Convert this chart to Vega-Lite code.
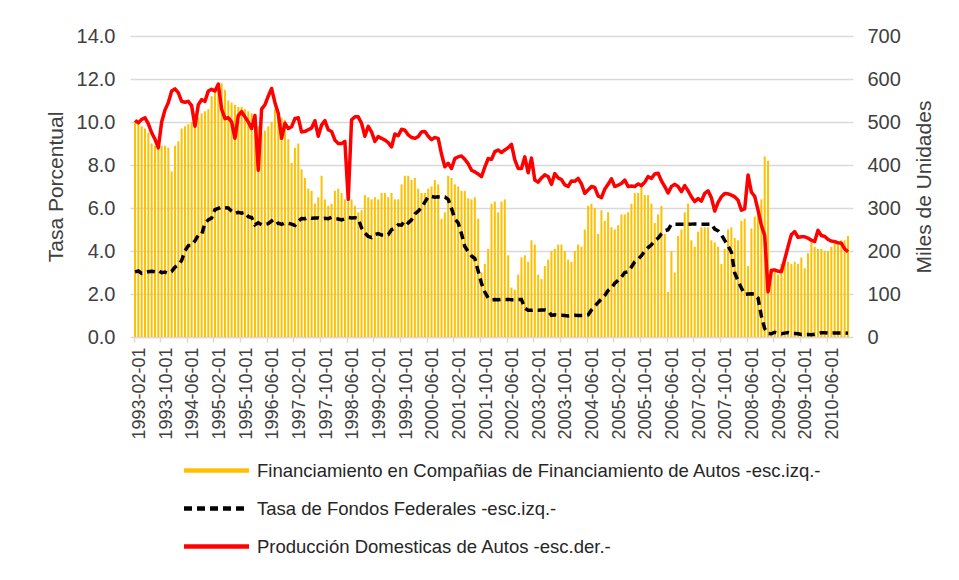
{
  "$schema": "https://vega.github.io/schema/vega-lite/v6.json",
  "width": 715,
  "height": 301,
  "padding": {"left": 45, "top": 26, "right": 20, "bottom": 10},
  "background": "white",
  "config": {
    "font": "Liberation Sans",
    "view": {"stroke": null},
    "axis": {"labelFont": "Liberation Sans", "titleFont": "Liberation Sans", "labelColor": "#404040", "titleColor": "#404040", "titleFontWeight": "normal"},
    "legend": {
      "orient": "none",
      "legendX": 72,
      "legendY": 424,
      "direction": "vertical",
      "labelFont": "Liberation Sans",
      "labelFontSize": 18.5,
      "labelColor": "#262626",
      "labelLimit": 0,
      "labelOffset": 30,
      "symbolType": "M-4,0H4",
      "symbolSize": 264,
      "symbolStrokeWidth": 4.5,
      "rowPadding": 18
    }
  },
  "data": {"values": [
    {"d":"1993-02-01","f":10.0,"t":3.03,"p":504},
    {"d":"1993-03-01","f":9.9,"t":3.07,"p":498},
    {"d":"1993-04-01","f":9.8,"t":2.96,"p":506},
    {"d":"1993-05-01","f":9.7,"t":3.00,"p":510},
    {"d":"1993-06-01","f":9.5,"t":3.04,"p":496},
    {"d":"1993-07-01","f":9.0,"t":3.06,"p":475},
    {"d":"1993-08-01","f":8.9,"t":3.03,"p":460},
    {"d":"1993-09-01","f":8.8,"t":3.09,"p":440},
    {"d":"1993-10-01","f":8.9,"t":2.99,"p":500},
    {"d":"1993-11-01","f":8.9,"t":3.02,"p":528},
    {"d":"1993-12-01","f":8.8,"t":2.96,"p":545},
    {"d":"1994-01-01","f":7.7,"t":3.05,"p":572},
    {"d":"1994-02-01","f":8.9,"t":3.25,"p":577},
    {"d":"1994-03-01","f":9.1,"t":3.34,"p":568},
    {"d":"1994-04-01","f":9.7,"t":3.56,"p":548},
    {"d":"1994-05-01","f":9.8,"t":4.01,"p":546},
    {"d":"1994-06-01","f":9.9,"t":4.25,"p":548},
    {"d":"1994-07-01","f":10.0,"t":4.26,"p":538},
    {"d":"1994-08-01","f":10.1,"t":4.47,"p":490},
    {"d":"1994-09-01","f":10.2,"t":4.73,"p":540},
    {"d":"1994-10-01","f":10.4,"t":4.76,"p":552},
    {"d":"1994-11-01","f":10.5,"t":5.29,"p":548},
    {"d":"1994-12-01","f":10.6,"t":5.45,"p":572},
    {"d":"1995-01-01","f":11.2,"t":5.53,"p":576},
    {"d":"1995-02-01","f":11.5,"t":5.92,"p":572},
    {"d":"1995-03-01","f":11.7,"t":5.98,"p":588},
    {"d":"1995-04-01","f":11.8,"t":6.05,"p":530},
    {"d":"1995-05-01","f":11.5,"t":6.01,"p":508},
    {"d":"1995-06-01","f":11.0,"t":6.00,"p":510},
    {"d":"1995-07-01","f":10.9,"t":5.85,"p":500},
    {"d":"1995-08-01","f":10.8,"t":5.74,"p":462},
    {"d":"1995-09-01","f":10.7,"t":5.80,"p":515},
    {"d":"1995-10-01","f":10.7,"t":5.76,"p":524},
    {"d":"1995-11-01","f":10.6,"t":5.80,"p":512},
    {"d":"1995-12-01","f":10.5,"t":5.60,"p":500},
    {"d":"1996-01-01","f":10.4,"t":5.56,"p":485},
    {"d":"1996-02-01","f":10.2,"t":5.22,"p":515},
    {"d":"1996-03-01","f":9.8,"t":5.31,"p":388},
    {"d":"1996-04-01","f":9.5,"t":5.22,"p":530},
    {"d":"1996-05-01","f":9.6,"t":5.24,"p":540},
    {"d":"1996-06-01","f":9.8,"t":5.27,"p":560},
    {"d":"1996-07-01","f":10.0,"t":5.40,"p":578},
    {"d":"1996-08-01","f":10.6,"t":5.22,"p":545},
    {"d":"1996-09-01","f":10.3,"t":5.30,"p":520},
    {"d":"1996-10-01","f":10.2,"t":5.24,"p":462},
    {"d":"1996-11-01","f":10.1,"t":5.31,"p":497},
    {"d":"1996-12-01","f":9.2,"t":5.29,"p":485},
    {"d":"1997-01-01","f":8.1,"t":5.25,"p":489},
    {"d":"1997-02-01","f":8.8,"t":5.19,"p":508},
    {"d":"1997-03-01","f":9.0,"t":5.39,"p":510},
    {"d":"1997-04-01","f":7.8,"t":5.51,"p":477},
    {"d":"1997-05-01","f":7.4,"t":5.50,"p":478},
    {"d":"1997-06-01","f":6.9,"t":5.56,"p":482},
    {"d":"1997-07-01","f":6.8,"t":5.52,"p":486},
    {"d":"1997-08-01","f":6.2,"t":5.54,"p":503},
    {"d":"1997-09-01","f":6.5,"t":5.54,"p":467},
    {"d":"1997-10-01","f":7.5,"t":5.50,"p":493},
    {"d":"1997-11-01","f":6.4,"t":5.52,"p":503},
    {"d":"1997-12-01","f":6.1,"t":5.50,"p":482},
    {"d":"1998-01-01","f":6.2,"t":5.56,"p":478},
    {"d":"1998-02-01","f":6.8,"t":5.51,"p":458},
    {"d":"1998-03-01","f":6.9,"t":5.49,"p":450},
    {"d":"1998-04-01","f":6.7,"t":5.45,"p":450},
    {"d":"1998-05-01","f":6.4,"t":5.49,"p":455},
    {"d":"1998-06-01","f":6.3,"t":5.56,"p":320},
    {"d":"1998-07-01","f":6.4,"t":5.54,"p":505},
    {"d":"1998-08-01","f":6.1,"t":5.55,"p":512},
    {"d":"1998-09-01","f":5.8,"t":5.51,"p":512},
    {"d":"1998-10-01","f":5.9,"t":5.07,"p":497},
    {"d":"1998-11-01","f":6.6,"t":4.83,"p":467},
    {"d":"1998-12-01","f":6.5,"t":4.68,"p":490},
    {"d":"1999-01-01","f":6.4,"t":4.63,"p":477},
    {"d":"1999-02-01","f":6.5,"t":4.76,"p":455},
    {"d":"1999-03-01","f":6.4,"t":4.81,"p":466},
    {"d":"1999-04-01","f":6.7,"t":4.74,"p":462},
    {"d":"1999-05-01","f":6.7,"t":4.74,"p":458},
    {"d":"1999-06-01","f":6.5,"t":4.76,"p":452},
    {"d":"1999-07-01","f":6.7,"t":4.99,"p":442},
    {"d":"1999-08-01","f":6.4,"t":5.07,"p":472},
    {"d":"1999-09-01","f":6.4,"t":5.22,"p":468},
    {"d":"1999-10-01","f":7.1,"t":5.20,"p":483},
    {"d":"1999-11-01","f":7.5,"t":5.42,"p":481},
    {"d":"1999-12-01","f":7.5,"t":5.30,"p":470},
    {"d":"2000-01-01","f":7.3,"t":5.45,"p":464},
    {"d":"2000-02-01","f":7.4,"t":5.73,"p":462},
    {"d":"2000-03-01","f":6.9,"t":5.85,"p":466},
    {"d":"2000-04-01","f":6.7,"t":6.02,"p":477},
    {"d":"2000-05-01","f":6.7,"t":6.27,"p":478},
    {"d":"2000-06-01","f":6.9,"t":6.53,"p":467},
    {"d":"2000-07-01","f":7.0,"t":6.54,"p":459},
    {"d":"2000-08-01","f":7.3,"t":6.50,"p":464},
    {"d":"2000-09-01","f":7.1,"t":6.52,"p":462},
    {"d":"2000-10-01","f":5.5,"t":6.51,"p":425},
    {"d":"2000-11-01","f":5.8,"t":6.51,"p":396},
    {"d":"2000-12-01","f":7.5,"t":6.40,"p":404},
    {"d":"2001-01-01","f":7.4,"t":5.98,"p":392},
    {"d":"2001-02-01","f":7.1,"t":5.49,"p":415},
    {"d":"2001-03-01","f":7.0,"t":5.31,"p":419},
    {"d":"2001-04-01","f":6.8,"t":4.80,"p":421},
    {"d":"2001-05-01","f":6.8,"t":4.21,"p":413},
    {"d":"2001-06-01","f":6.45,"t":3.97,"p":403},
    {"d":"2001-07-01","f":6.4,"t":3.77,"p":388},
    {"d":"2001-08-01","f":6.5,"t":3.65,"p":384},
    {"d":"2001-09-01","f":5.5,"t":3.07,"p":379},
    {"d":"2001-10-01","f":3.0,"t":2.49,"p":373},
    {"d":"2001-11-01","f":3.4,"t":2.09,"p":395},
    {"d":"2001-12-01","f":4.1,"t":1.82,"p":415},
    {"d":"2002-01-01","f":6.2,"t":1.73,"p":413},
    {"d":"2002-02-01","f":6.3,"t":1.74,"p":431},
    {"d":"2002-03-01","f":5.8,"t":1.73,"p":435},
    {"d":"2002-04-01","f":6.3,"t":1.75,"p":429},
    {"d":"2002-05-01","f":6.4,"t":1.75,"p":435},
    {"d":"2002-06-01","f":3.8,"t":1.75,"p":440},
    {"d":"2002-07-01","f":2.3,"t":1.73,"p":448},
    {"d":"2002-08-01","f":2.2,"t":1.74,"p":412},
    {"d":"2002-09-01","f":2.9,"t":1.75,"p":392},
    {"d":"2002-10-01","f":3.7,"t":1.75,"p":392},
    {"d":"2002-11-01","f":3.8,"t":1.34,"p":419},
    {"d":"2002-12-01","f":3.5,"t":1.24,"p":382},
    {"d":"2003-01-01","f":4.5,"t":1.24,"p":416},
    {"d":"2003-02-01","f":4.3,"t":1.26,"p":365},
    {"d":"2003-03-01","f":2.9,"t":1.25,"p":360},
    {"d":"2003-04-01","f":2.7,"t":1.26,"p":370},
    {"d":"2003-05-01","f":3.3,"t":1.26,"p":377},
    {"d":"2003-06-01","f":3.6,"t":1.22,"p":373},
    {"d":"2003-07-01","f":4.0,"t":1.01,"p":355},
    {"d":"2003-08-01","f":4.1,"t":1.03,"p":380},
    {"d":"2003-09-01","f":4.3,"t":1.01,"p":370},
    {"d":"2003-10-01","f":4.3,"t":1.01,"p":366},
    {"d":"2003-11-01","f":4.0,"t":1.00,"p":354},
    {"d":"2003-12-01","f":3.6,"t":0.98,"p":350},
    {"d":"2004-01-01","f":3.5,"t":1.00,"p":363},
    {"d":"2004-02-01","f":4.0,"t":1.01,"p":362},
    {"d":"2004-03-01","f":4.3,"t":1.00,"p":369},
    {"d":"2004-04-01","f":4.2,"t":1.00,"p":356},
    {"d":"2004-05-01","f":5.0,"t":1.00,"p":334},
    {"d":"2004-06-01","f":6.1,"t":1.03,"p":342},
    {"d":"2004-07-01","f":6.2,"t":1.26,"p":350},
    {"d":"2004-08-01","f":6.0,"t":1.43,"p":348},
    {"d":"2004-09-01","f":4.8,"t":1.61,"p":328},
    {"d":"2004-10-01","f":5.9,"t":1.76,"p":324},
    {"d":"2004-11-01","f":5.4,"t":1.93,"p":344},
    {"d":"2004-12-01","f":5.8,"t":2.16,"p":355},
    {"d":"2005-01-01","f":5.1,"t":2.28,"p":368},
    {"d":"2005-02-01","f":5.0,"t":2.50,"p":350},
    {"d":"2005-03-01","f":5.2,"t":2.63,"p":353},
    {"d":"2005-04-01","f":5.7,"t":2.79,"p":357},
    {"d":"2005-05-01","f":5.7,"t":3.00,"p":365},
    {"d":"2005-06-01","f":5.8,"t":3.04,"p":350},
    {"d":"2005-07-01","f":6.2,"t":3.26,"p":351},
    {"d":"2005-08-01","f":6.7,"t":3.50,"p":350},
    {"d":"2005-09-01","f":6.7,"t":3.62,"p":356},
    {"d":"2005-10-01","f":7.0,"t":3.78,"p":352},
    {"d":"2005-11-01","f":6.6,"t":4.00,"p":360},
    {"d":"2005-12-01","f":6.6,"t":4.16,"p":373},
    {"d":"2006-01-01","f":6.2,"t":4.29,"p":369},
    {"d":"2006-02-01","f":5.3,"t":4.49,"p":379},
    {"d":"2006-03-01","f":5.7,"t":4.59,"p":381},
    {"d":"2006-04-01","f":6.1,"t":4.79,"p":363},
    {"d":"2006-05-01","f":4.8,"t":4.94,"p":350},
    {"d":"2006-06-01","f":2.1,"t":4.99,"p":335},
    {"d":"2006-07-01","f":4.0,"t":5.24,"p":350},
    {"d":"2006-08-01","f":3.0,"t":5.25,"p":355},
    {"d":"2006-09-01","f":4.7,"t":5.25,"p":350},
    {"d":"2006-10-01","f":5.0,"t":5.25,"p":338},
    {"d":"2006-11-01","f":5.8,"t":5.25,"p":352},
    {"d":"2006-12-01","f":6.2,"t":5.24,"p":340},
    {"d":"2007-01-01","f":4.5,"t":5.25,"p":326},
    {"d":"2007-02-01","f":4.2,"t":5.26,"p":315},
    {"d":"2007-03-01","f":4.9,"t":5.26,"p":322},
    {"d":"2007-04-01","f":5.1,"t":5.25,"p":316},
    {"d":"2007-05-01","f":5.1,"t":5.25,"p":334},
    {"d":"2007-06-01","f":5.1,"t":5.25,"p":340},
    {"d":"2007-07-01","f":4.5,"t":5.26,"p":324},
    {"d":"2007-08-01","f":4.4,"t":5.02,"p":293},
    {"d":"2007-09-01","f":4.2,"t":4.94,"p":313},
    {"d":"2007-10-01","f":3.4,"t":4.76,"p":326},
    {"d":"2007-11-01","f":4.1,"t":4.49,"p":334},
    {"d":"2007-12-01","f":5.0,"t":4.24,"p":333},
    {"d":"2008-01-01","f":5.1,"t":3.94,"p":330},
    {"d":"2008-02-01","f":4.6,"t":2.98,"p":326},
    {"d":"2008-03-01","f":4.5,"t":2.61,"p":318},
    {"d":"2008-04-01","f":5.4,"t":2.28,"p":295},
    {"d":"2008-05-01","f":5.5,"t":1.98,"p":298},
    {"d":"2008-06-01","f":3.3,"t":2.00,"p":377},
    {"d":"2008-07-01","f":5.05,"t":2.01,"p":337},
    {"d":"2008-08-01","f":5.6,"t":2.00,"p":327},
    {"d":"2008-09-01","f":6.0,"t":1.81,"p":295},
    {"d":"2008-10-01","f":6.4,"t":0.97,"p":260},
    {"d":"2008-11-01","f":8.4,"t":0.39,"p":236},
    {"d":"2008-12-01","f":8.2,"t":0.16,"p":105},
    {"d":"2009-01-01","f":3.1,"t":0.15,"p":155},
    {"d":"2009-02-01","f":3.15,"t":0.22,"p":156},
    {"d":"2009-03-01","f":2.9,"t":0.18,"p":153},
    {"d":"2009-04-01","f":3.4,"t":0.15,"p":152},
    {"d":"2009-05-01","f":3.8,"t":0.18,"p":180},
    {"d":"2009-06-01","f":3.5,"t":0.21,"p":210},
    {"d":"2009-07-01","f":3.4,"t":0.16,"p":238},
    {"d":"2009-08-01","f":3.5,"t":0.16,"p":245},
    {"d":"2009-09-01","f":3.4,"t":0.15,"p":232},
    {"d":"2009-10-01","f":3.7,"t":0.12,"p":233},
    {"d":"2009-11-01","f":3.2,"t":0.12,"p":233},
    {"d":"2009-12-01","f":3.9,"t":0.12,"p":230},
    {"d":"2010-01-01","f":4.4,"t":0.11,"p":225},
    {"d":"2010-02-01","f":4.2,"t":0.13,"p":222},
    {"d":"2010-03-01","f":4.1,"t":0.16,"p":248},
    {"d":"2010-04-01","f":4.1,"t":0.20,"p":236},
    {"d":"2010-05-01","f":4.0,"t":0.20,"p":234},
    {"d":"2010-06-01","f":4.0,"t":0.18,"p":227},
    {"d":"2010-07-01","f":4.2,"t":0.18,"p":223},
    {"d":"2010-08-01","f":4.4,"t":0.19,"p":222},
    {"d":"2010-09-01","f":4.3,"t":0.19,"p":219},
    {"d":"2010-10-01","f":4.5,"t":0.19,"p":218},
    {"d":"2010-11-01","f":4.5,"t":0.19,"p":205},
    {"d":"2010-12-01","f":4.7,"t":0.18,"p":198}
  ]},
  "encoding": {
    "x": {
      "field": "d", "type": "ordinal",
      "scale": {"type": "band", "paddingInner": 0.4, "paddingOuter": 0},
      "axis": {
        "values": ["1993-02-01","1993-10-01","1994-06-01","1995-02-01","1995-10-01","1996-06-01","1997-02-01","1997-10-01","1998-06-01","1999-02-01","1999-10-01","2000-06-01","2001-02-01","2001-10-01","2002-06-01","2003-02-01","2003-10-01","2004-06-01","2005-02-01","2005-10-01","2006-06-01","2007-02-01","2007-10-01","2008-06-01","2009-02-01","2009-10-01","2010-06-01"],
        "bandPosition": 0,
        "labelAngle": 270,
        "labelFontSize": 18,
        "labelOffset": 5,
        "labelPadding": 5,
        "labelOverlap": false,
        "tickSize": 5,
        "tickColor": "#D9D9D9",
        "tickWidth": 1.5,
        "domainColor": "#D9D9D9",
        "domainWidth": 1.5,
        "grid": false,
        "title": null
      }
    }
  },
  "layer": [
    {
      "layer": [
        {
          "mark": {"type": "bar"},
          "encoding": {
            "y": {
              "field": "f", "type": "quantitative",
              "scale": {"domain": [0, 14], "nice": false},
              "title": "Tasa Porcentual",
              "axis": {
                "values": [0, 2, 4, 6, 8, 10, 12, 14],
                "format": ".1f",
                "labelFontSize": 20,
                "labelPadding": 15,
                "tickSize": 4,
                "tickColor": "#D9D9D9",
                "tickWidth": 1.5,
                "domain": false,
                "grid": true,
                "gridColor": "#D9D9D9",
                "gridWidth": 1.5,
                "titleFontSize": 21,
                "titlePadding": 10
              }
            },
            "color": {
              "datum": "Financiamiento en Compañias de Financiamiento de Autos -esc.izq.-",
              "scale": {
                "domain": ["Financiamiento en Compañias de Financiamiento de Autos -esc.izq.-", "Tasa de Fondos Federales -esc.izq.-", "Producción Domesticas de Autos -esc.der.-"],
                "range": ["#FFC000", "#000000", "#FF0000"]
              },
              "legend": {"title": null}
            }
          }
        },
        {
          "mark": {"type": "line", "strokeWidth": 3.5},
          "encoding": {
            "y": {"field": "t", "type": "quantitative", "title": "Tasa Porcentual"},
            "color": {"datum": "Tasa de Fondos Federales -esc.izq.-"},
            "strokeDash": {
              "datum": "Tasa de Fondos Federales -esc.izq.-",
              "scale": {
                "domain": ["Financiamiento en Compañias de Financiamiento de Autos -esc.izq.-", "Tasa de Fondos Federales -esc.izq.-", "Producción Domesticas de Autos -esc.der.-"],
                "range": [[1, 0], [8, 5], [1, 0]]
              },
              "legend": {"title": null}
            }
          }
        }
      ]
    },
    {
      "mark": {"type": "line", "strokeWidth": 3.5, "strokeJoin": "round"},
      "encoding": {
        "y": {
          "field": "p", "type": "quantitative",
          "scale": {"domain": [0, 700], "nice": false},
          "title": "Miles de Unidades",
          "axis": {
            "orient": "right",
            "values": [0, 100, 200, 300, 400, 500, 600, 700],
            "labelFontSize": 20,
            "labelPadding": 14,
            "tickSize": 4,
            "tickColor": "#D9D9D9",
            "tickWidth": 1.5,
            "domain": false,
            "grid": false,
            "titleFontSize": 21,
            "titleAngle": 270,
            "titlePadding": 34
          }
        },
        "color": {"datum": "Producción Domesticas de Autos -esc.der.-"},
        "strokeDash": {"datum": "Producción Domesticas de Autos -esc.der.-"}
      }
    }
  ],
  "resolve": {"scale": {"y": "independent"}}
}
